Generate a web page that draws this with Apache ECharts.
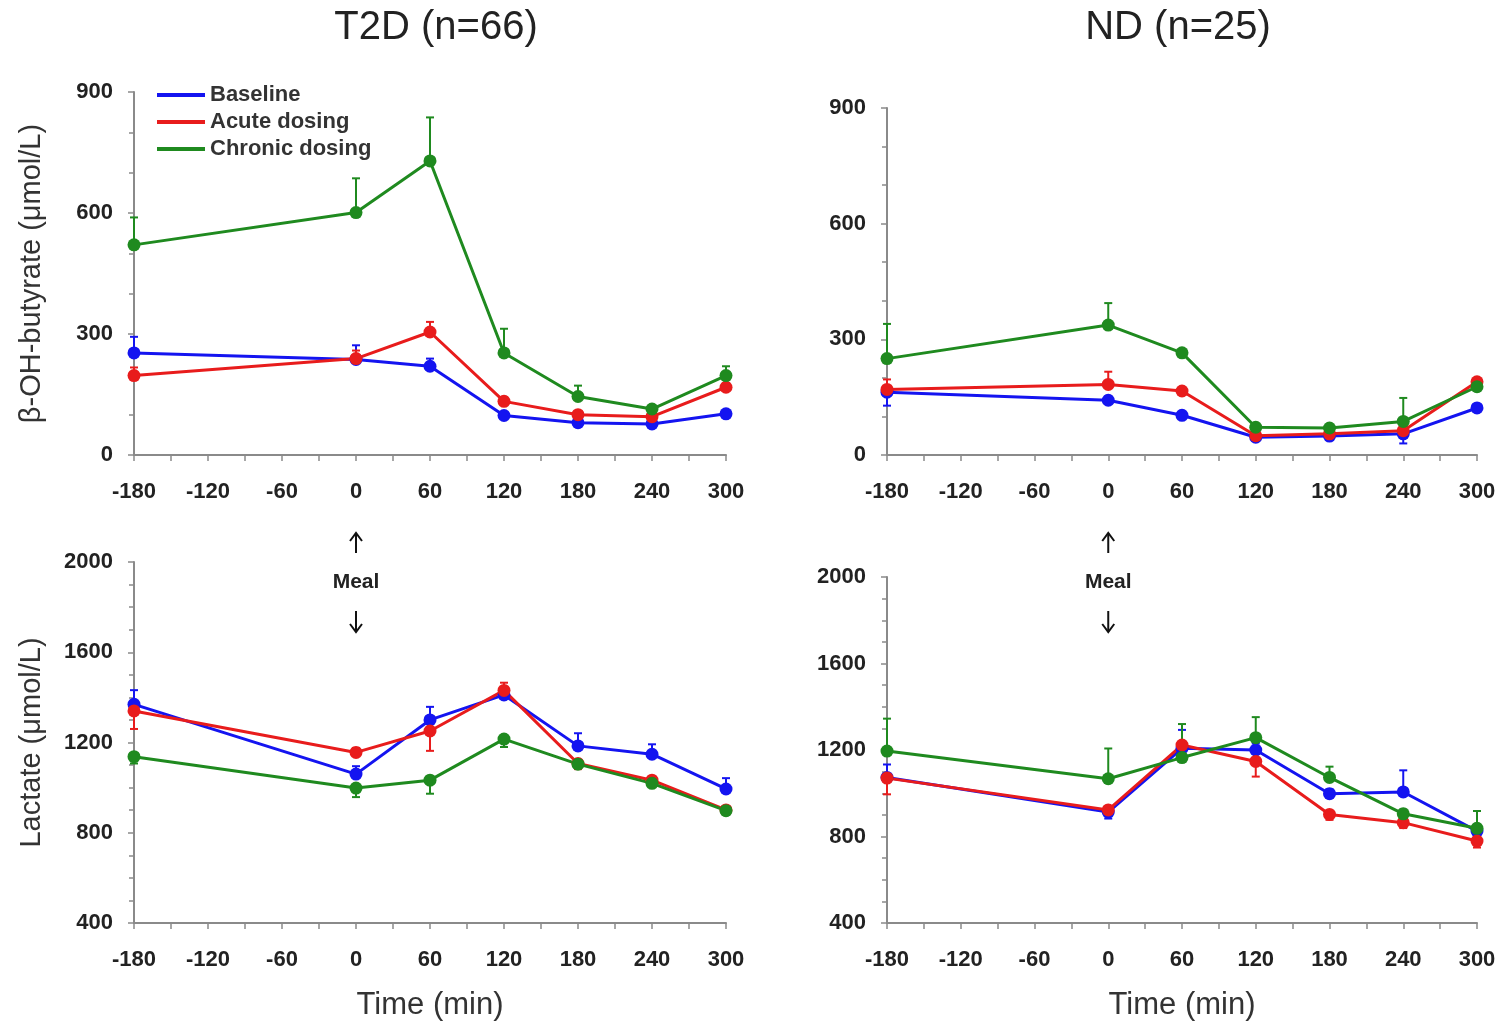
<!DOCTYPE html>
<html>
<head>
<meta charset="utf-8">
<script src="https://cdn.jsdelivr.net/npm/echarts@6/dist/echarts.min.js"></script>
<style>
  html, body { margin: 0; padding: 0; background: #fff; }
  #chart { width: 1510px; height: 1024px; }
</style>
</head>
<body>
<div id="chart"></div>
<script>
const times = [-180, 0, 60, 120, 180, 240, 300]
const seriesNames = ['Baseline', 'Acute dosing', 'Chronic dosing']
const colors = ['#1414f0', '#e81c1c', '#1f8a1f']

// β-OH-butyrate, T2D
const t2dBhbBaseline = [253, 237, 220, 98, 80, 77, 102]
const t2dBhbAcute = [197, 239, 305, 133, 100, 95, 168]
const t2dBhbChronic = [521, 601, 729, 253, 145, 114, 197]
// error bars (SEM); sign = direction drawn
const t2dBhbBaselineErr = [40, 35, 19, 8, 8, 8, 6]
const t2dBhbAcuteErr = [20, 20, 25, 10, 8, 8, 10]
const t2dBhbChronicErr = [68, 85, 108, 60, 27, 10, 23]

// β-OH-butyrate, ND
const ndBhbBaseline = [163, 142, 103, 46, 49, 55, 122]
const ndBhbAcute = [170, 183, 166, 50, 55, 63, 190]
const ndBhbChronic = [250, 337, 265, 72, 70, 87, 177]
const ndBhbBaselineErr = [-35, 10, 8, 8, 8, -25, 8]
const ndBhbAcuteErr = [26, 33, 8, 8, 8, 25, 8]
const ndBhbChronicErr = [90, 57, 8, 8, 8, 61, 8]

// Lactate, T2D
const t2dLacBaseline = [1369, 1060, 1300, 1411, 1185, 1148, 994]
const t2dLacAcute = [1340, 1156, 1251, 1431, 1107, 1033, 901]
const t2dLacChronic = [1137, 998, 1033, 1215, 1104, 1019, 898]
const t2dLacBaselineErr = [63, 35, 58, 30, 56, 44, 48]
const t2dLacAcuteErr = [-80, 20, -88, 34, -25, 15, 15]
const t2dLacChronicErr = [-30, -40, -60, -35, 20, 20, 20]

// Lactate, ND
const ndLacBaseline = [1073, 913, 1208, 1200, 998, 1006, 825]
const ndLacAcute = [1070, 923, 1223, 1147, 902, 864, 779]
const ndLacChronic = [1195, 1067, 1165, 1257, 1073, 905, 838]
const ndLacBaselineErr = [60, -30, 85, 30, 20, 100, 30]
const ndLacAcuteErr = [-75, -20, -50, -70, -25, -25, -30]
const ndLacChronicErr = [150, 140, 155, 95, 50, 20, 80]

const panels = [
  { vals: [t2dBhbBaseline, t2dBhbAcute, t2dBhbChronic], errs: [t2dBhbBaselineErr, t2dBhbAcuteErr, t2dBhbChronicErr] },
  { vals: [ndBhbBaseline, ndBhbAcute, ndBhbChronic], errs: [ndBhbBaselineErr, ndBhbAcuteErr, ndBhbChronicErr] },
  { vals: [t2dLacBaseline, t2dLacAcute, t2dLacChronic], errs: [t2dLacBaselineErr, t2dLacAcuteErr, t2dLacChronicErr] },
  { vals: [ndLacBaseline, ndLacAcute, ndLacChronic], errs: [ndLacBaselineErr, ndLacAcuteErr, ndLacChronicErr] }
]

const FONT = 'Liberation Sans, Arial, sans-serif'
const axisGrey = '#8a8a8a'

const myChart = echarts.init(document.querySelector('#chart'))

const grids = [
  { left: 134, top: 92, width: 592, height: 363 },
  { left: 887, top: 108, width: 590, height: 347 },
  { left: 134, top: 562, width: 592, height: 361 },
  { left: 887, top: 577, width: 590, height: 346 }
].map(g => ({ ...g, outerBoundsMode: 'none', containLabel: false }))

const xAxes = grids.map((g, i) => ({
  type: 'value', gridIndex: i, min: -180, max: 300, interval: 60,
  name: i >= 2 ? 'Time (min)' : '', nameLocation: 'middle', nameGap: 67,
  nameTextStyle: { fontFamily: FONT, fontSize: 31, color: '#333' },
  axisLine: { onZero: false, lineStyle: { color: axisGrey, width: 2 } },
  axisTick: { show: true, length: 6, lineStyle: { color: axisGrey, width: 1.5 } },
  minorTick: { show: true, splitNumber: 2, length: 6, lineStyle: { color: axisGrey, width: 1.5 } },
  splitLine: { show: false },
  axisLabel: { fontFamily: FONT, fontSize: 22, fontWeight: 'bold', color: '#222', margin: 26 }
}))

const yAxes = grids.map((g, i) => {
  const bhb = i < 2
  return {
    type: 'value', gridIndex: i,
    min: bhb ? 0 : 400, max: bhb ? 900 : 2000, interval: bhb ? 300 : 400,
    name: i === 0 ? 'β-OH-butyrate (μmol/L)' : (i === 2 ? 'Lactate (μmol/L)' : ''),
    nameLocation: 'middle', nameGap: 88,
    nameTextStyle: { fontFamily: FONT, fontSize: 29, color: '#333' },
    axisLine: { show: true, onZero: false, lineStyle: { color: axisGrey, width: 2 } },
    axisTick: { show: true, length: 6, lineStyle: { color: axisGrey, width: 1.5 } },
    minorTick: { show: true, splitNumber: bhb ? 3 : 4, length: 5, lineStyle: { color: axisGrey, width: 1.5 } },
    splitLine: { show: false },
    axisLabel: { fontFamily: FONT, fontSize: 22, fontWeight: 'bold', color: '#222', margin: 21, formatter: v => String(v) }
  }
})

const series = []
panels.forEach((p, pi) => {
  p.vals.forEach((vals, si) => {
    series.push({
      name: seriesNames[si], type: 'line', xAxisIndex: pi, yAxisIndex: pi,
      data: times.map((t, k) => [t, vals[k]]),
      symbol: 'circle', symbolSize: 13, z: 3,
      lineStyle: { color: colors[si], width: 3 },
      itemStyle: { color: colors[si] }
    })
    series.push({
      type: 'custom', xAxisIndex: pi, yAxisIndex: pi, z: 2, silent: true,
      data: times.map((t, k) => [t, vals[k], p.errs[si][k]]),
      encode: { x: 0, y: 1 },
      renderItem: (params, api) => {
        const x = api.value(0), y = api.value(1), e = api.value(2)
        const a = api.coord([x, y])
        const b = api.coord([x, y + e])
        const style = { stroke: colors[si], lineWidth: 2 }
        return {
          type: 'group',
          children: [
            { type: 'line', shape: { x1: a[0], y1: a[1], x2: b[0], y2: b[1] }, style },
            { type: 'line', shape: { x1: b[0] - 4, y1: b[1], x2: b[0] + 4, y2: b[1] }, style }
          ]
        }
      }
    })
  })
})

myChart.setOption({
  animation: false,
  textStyle: { fontFamily: FONT },
  grid: grids,
  xAxis: xAxes,
  yAxis: yAxes,
  legend: {
    data: seriesNames, orient: 'vertical', left: 152, top: 79,
    icon: 'rect', itemWidth: 48, itemHeight: 4, itemGap: 5,
    textStyle: { fontFamily: FONT, fontSize: 22, fontWeight: 'bold', color: '#333', lineHeight: 22 }
  },
  series
})

// titles and meal markers
const x0a = myChart.convertToPixel({ xAxisIndex: 0 }, 0)
const x0b = myChart.convertToPixel({ xAxisIndex: 1 }, 0)
const mealMarker = (x) => ({
  type: 'group',
  children: [
    { type: 'line', shape: { x1: x, y1: 553, x2: x, y2: 533 }, style: { stroke: '#111', lineWidth: 2 } },
    { type: 'polyline', shape: { points: [[x - 6, 541], [x, 533], [x + 6, 541]] }, style: { stroke: '#111', lineWidth: 2, fill: null } },
    { type: 'text', style: { x: x, y: 582, text: 'Meal', textAlign: 'center', textVerticalAlign: 'middle', font: 'bold 21px ' + FONT, fill: '#222' } },
    { type: 'line', shape: { x1: x, y1: 611, x2: x, y2: 632 }, style: { stroke: '#111', lineWidth: 2 } },
    { type: 'polyline', shape: { points: [[x - 6, 624], [x, 632], [x + 6, 624]] }, style: { stroke: '#111', lineWidth: 2, fill: null } }
  ]
})

myChart.setOption({
  graphic: [
    { type: 'text', style: { x: 436, y: 28, text: 'T2D (n=66)', textAlign: 'center', textVerticalAlign: 'middle', font: '40px ' + FONT, fill: '#222' } },
    { type: 'text', style: { x: 1178, y: 28, text: 'ND (n=25)', textAlign: 'center', textVerticalAlign: 'middle', font: '40px ' + FONT, fill: '#222' } },
    mealMarker(x0a),
    mealMarker(x0b)
  ]
})
</script>
</body>
</html>
